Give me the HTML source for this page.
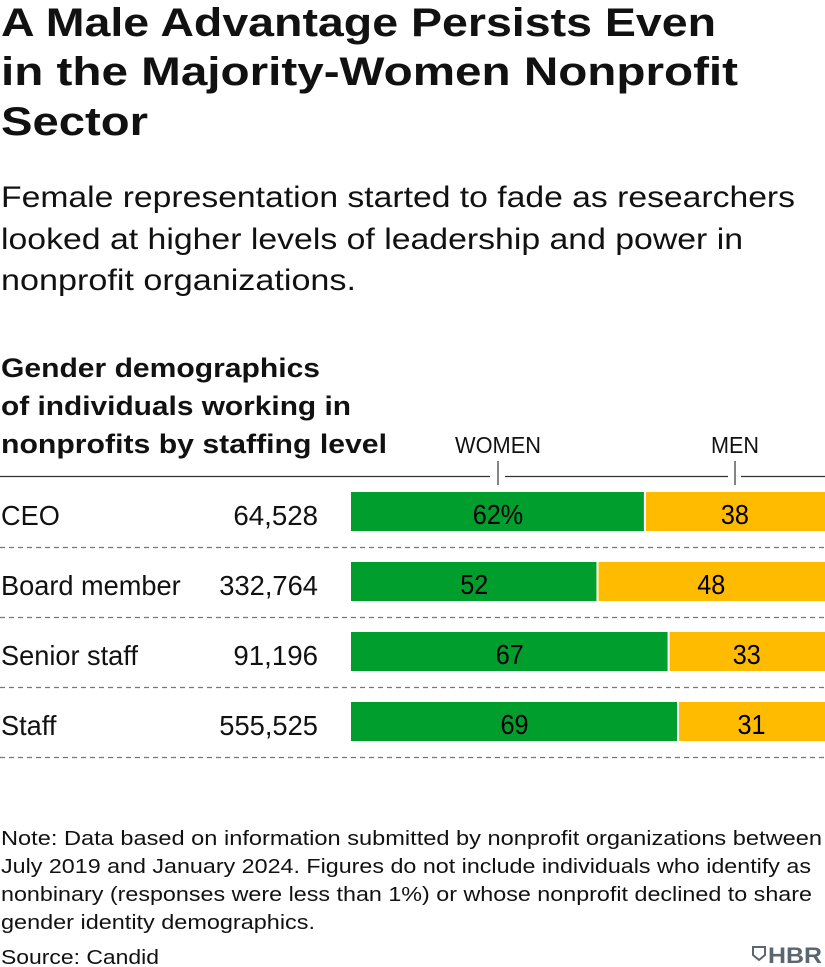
<!DOCTYPE html>
<html><head><meta charset="utf-8"><style>body{margin:0;background:#fff}svg{display:block}text{font-family:"Liberation Sans",sans-serif;fill:#111}</style></head>
<body>
<svg width="825" height="967">
<g font-weight="bold" font-size="40">
<text x="1" y="36" textLength="715" lengthAdjust="spacingAndGlyphs">A Male Advantage Persists Even</text>
<text x="1" y="85" textLength="737" lengthAdjust="spacingAndGlyphs">in the Majority-Women Nonprofit</text>
<text x="1" y="135" textLength="147" lengthAdjust="spacingAndGlyphs">Sector</text>
</g>
<g font-size="30" style="fill:#222">
<text x="1" y="207" textLength="794" lengthAdjust="spacingAndGlyphs">Female representation started to fade as researchers</text>
<text x="1" y="249" textLength="742" lengthAdjust="spacingAndGlyphs">looked at higher levels of leadership and power in</text>
<text x="1" y="290" textLength="355" lengthAdjust="spacingAndGlyphs">nonprofit organizations.</text>
</g>
<g font-weight="bold" font-size="27">
<text x="1" y="377" textLength="319" lengthAdjust="spacingAndGlyphs">Gender demographics</text>
<text x="1" y="415" textLength="350" lengthAdjust="spacingAndGlyphs">of individuals working in</text>
<text x="1" y="453" textLength="386" lengthAdjust="spacingAndGlyphs">nonprofits by staffing level</text>
</g>
<g font-size="23">
<text x="498" y="453" text-anchor="middle" textLength="86" lengthAdjust="spacingAndGlyphs">WOMEN</text>
<text x="735" y="453" text-anchor="middle" textLength="48" lengthAdjust="spacingAndGlyphs">MEN</text>
<g stroke="#333" stroke-width="1.2">
<line x1="0" y1="476.5" x2="490" y2="476.5"/><line x1="505" y1="476.5" x2="728" y2="476.5"/><line x1="741" y1="476.5" x2="825" y2="476.5"/>
<line x1="498" y1="461" x2="498" y2="485"/><line x1="735" y1="461" x2="735" y2="485"/>
</g>
</g>
<g id="rows"></g>
<g font-size="20.5" style="fill:#333">
<text x="1" y="845" textLength="821" lengthAdjust="spacingAndGlyphs">Note: Data based on information submitted by nonprofit organizations between</text>
<text x="1" y="873" textLength="810" lengthAdjust="spacingAndGlyphs">July 2019 and January 2024. Figures do not include individuals who identify as</text>
<text x="1" y="901" textLength="811" lengthAdjust="spacingAndGlyphs">nonbinary (responses were less than 1%) or whose nonprofit declined to share</text>
<text x="1" y="929" textLength="314" lengthAdjust="spacingAndGlyphs">gender identity demographics.</text>
<text x="1" y="964" textLength="158" lengthAdjust="spacingAndGlyphs">Source: Candid</text>
</g>
<g>
<path d="M753 947h12v8l-6 5-6-5z" fill="none" stroke="#5a6670" stroke-width="2"/>
<text x="768" y="963" font-size="22" font-weight="bold" style="fill:#5a6670" textLength="54" lengthAdjust="spacingAndGlyphs">HBR</text>
</g>
</svg>
<script>
const categories=["CEO","Board member","Senior staff","Staff"];
const counts=["64,528","332,764","91,196","555,525"];
const women=[62,52,67,69];
const men=[38,48,33,31];
const NS="http://www.w3.org/2000/svg";
const g=document.getElementById('rows');
const x0=351,W=474,top0=492,step=70,bh=39;
const xs=v=>W*v/100;
function mk(t,a){const e=document.createElementNS(NS,t);for(const k in a)e.setAttribute(k,a[k]);g.appendChild(e);return e;}
categories.forEach((c,i)=>{
 const y=top0+i*step,tot=women[i]+men[i];
 const ww=xs(women[i]*100/tot);
 let t=mk('text',{x:1,y:y+33,'font-size':28});t.textContent=c;
 t.setAttribute('textLength',t.getComputedTextLength()*0.97);
 t.setAttribute('lengthAdjust','spacingAndGlyphs');
 
 
 t=mk('text',{x:318,y:y+33,'font-size':28,'text-anchor':'end',textLength:counts[i].length*14.1,lengthAdjust:'spacingAndGlyphs'});t.textContent=counts[i];
 
 
 let r=mk('rect',{x:x0,y:y,width:ww-1,height:bh,fill:'#009e2c'});
 
 
 r=mk('rect',{x:x0+ww+1,y:y,width:W-ww-1,height:bh,fill:'#ffbb00'});
 
 
 t=mk('text',{x:x0+ww/2,y:y+32,'font-size':28,'text-anchor':'middle',style:'fill:#000'});t.textContent=women[i]+(i==0?'%':'');
 t.setAttribute('textLength',t.getComputedTextLength()*0.9);t.setAttribute('lengthAdjust','spacingAndGlyphs');
 
 
 t=mk('text',{x:x0+ww+(W-ww)/2,y:y+32,'font-size':28,'text-anchor':'middle',style:'fill:#000'});t.textContent=men[i];
 t.setAttribute('textLength',t.getComputedTextLength()*0.9);t.setAttribute('lengthAdjust','spacingAndGlyphs');
 
 
 const l=mk('line',{x1:0,x2:825,y1:y+55.5,y2:y+55.5,stroke:'#777','stroke-width':1.2,'stroke-dasharray':'5 4'});
 
 
});
</script>
</body></html>
